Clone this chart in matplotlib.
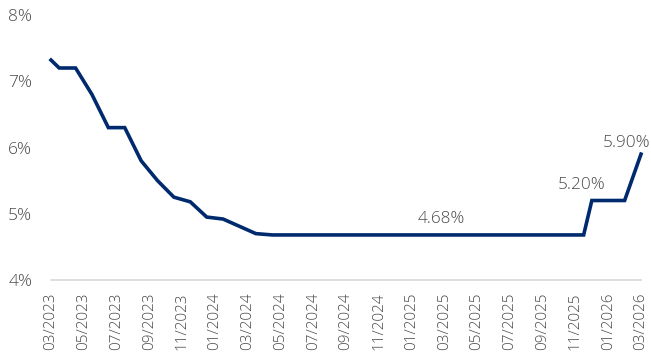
import matplotlib
matplotlib.use("Agg")
import matplotlib.pyplot as plt
from matplotlib.ticker import FuncFormatter

plt.rcParams['font.family'] = ['Open Sans', 'DejaVu Sans']

# months since 03/2023 and rate (%)
months = [0, 0.5, 1.5, 2.5, 3.5, 4.5, 5.5, 6.5, 7.5, 8.5, 9.5, 10.5, 11.5,
          12.5, 13.5, 32.5, 33, 35, 36]
rates = [7.32, 7.2, 7.2, 6.8, 6.3, 6.3, 5.8, 5.5, 5.25, 5.18, 4.95, 4.92, 4.81,
         4.70, 4.68, 4.68, 5.2, 5.2, 5.9]

tick_labels = ["03/2023", "05/2023", "07/2023", "09/2023", "11/2023", "01/2024",
               "03/2024", "05/2024", "07/2024", "09/2024", "11/2024", "01/2025",
               "03/2025", "05/2025", "07/2025", "09/2025", "11/2025", "01/2026",
               "03/2026"]
tick_pos = list(range(0, 37, 2))

# annotated values
notes_x = [23.8, 32.4, 35.1]
notes_y = [4.68, 5.20, 5.90]
notes_txt = ["4.68%", "5.20%", "5.90%"]
notes_off = [8.5, 8.5, 5]

grey = '#4a4a4a'
navy = '#002a6e'

fig = plt.figure(figsize=(6.51, 3.64), dpi=100)
ax = fig.add_axes([51 / 651, 1 - 280 / 364, 590 / 651, 265 / 364])

ax.plot(months, rates, color=navy, lw=2.6, solid_joinstyle='miter', clip_on=False)

for x, y, t, o in zip(notes_x, notes_y, notes_txt, notes_off):
    ax.annotate(t, (x, y), xytext=(0, o), textcoords='offset points',
                ha='center', va='baseline', color=grey, fontsize=12.3,
                fontweight='light')

ax.set_xlim(0, 36)
ax.set_ylim(4, 8)
ax.set_yticks([4, 5, 6, 7, 8])
ax.yaxis.set_major_formatter(FuncFormatter(lambda v, p: f"{v:.0f}%"))
ax.set_xticks(tick_pos)
ax.set_xticklabels(tick_labels, rotation=90)

for s in ['top', 'right', 'left']:
    ax.spines[s].set_visible(False)
ax.spines['bottom'].set_color('#d9d9d9')
ax.spines['bottom'].set_linewidth(1.2)
ax.tick_params(axis='both', length=0, colors=grey)
ax.tick_params(axis='y', pad=13.5, labelsize=12.5)
ax.tick_params(axis='x', pad=9, labelsize=11)
for lab in ax.get_xticklabels() + ax.get_yticklabels():
    lab.set_fontweight('light')

fig.savefig("out.png", dpi=100)
